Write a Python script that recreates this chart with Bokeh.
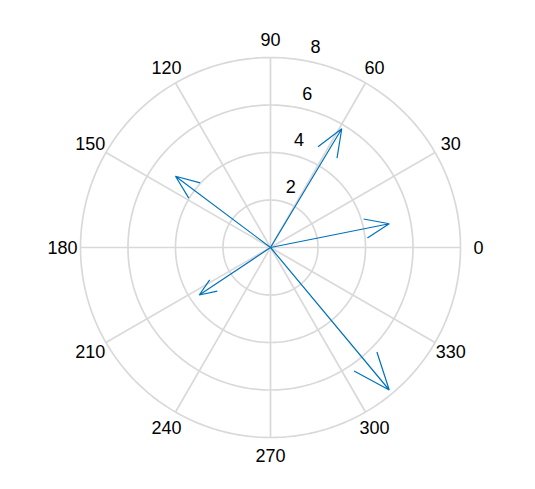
import numpy as np
from bokeh.plotting import figure
from bokeh.models import Range1d
from bokeh.core.properties import value
from bokeh.embed import file_html
from bokeh.resources import INLINE

# compass vectors (u, v)
u = [3, 5, -4, -3, 5]
v = [5, 1, 3, -2, -6]

ring_values = [2, 4, 6, 8]
ring_labels = ["2", "4", "6", "8"]
angle_values = [0, 30, 60, 90, 120, 150, 180, 210, 240, 270, 300, 330]
angle_labels = [str(a) for a in angle_values]

rmax = 8
scale = 23.75  # px per unit
W, H = 530, 484
cx, cy = 270, 247
p = figure(width=W, height=H, output_backend="svg", toolbar_location=None,
           x_range=Range1d(-cx / scale, (W - cx) / scale),
           y_range=Range1d(-(H - cy) / scale, cy / scale),
           min_border=0)
p.axis.visible = False
p.grid.visible = False
p.outline_line_color = None
p.background_fill_color = "white"

grid_col = "#d9d9d9"
th = np.linspace(0, 2 * np.pi, 361)
for r in ring_values:
    p.line(r * np.cos(th), r * np.sin(th), line_color=grid_col, line_width=1.7)
for a in angle_values:
    ar = np.deg2rad(a)
    p.line([0, rmax * np.cos(ar)], [0, rmax * np.sin(ar)], line_color=grid_col, line_width=1.7)

# angle labels
lr = 8.76
p.text(x=[lr * np.cos(np.deg2rad(a)) for a in angle_values],
       y=[lr * np.sin(np.deg2rad(a)) for a in angle_values],
       text=angle_labels, text_align="center", text_baseline="middle",
       text_font=value("Liberation Sans"), text_font_size="18px", text_color="black")

# ring labels at 80 deg
ra = np.deg2rad(80)
p.text(x=[r * np.cos(ra) for r in ring_values], y=[r * np.sin(ra) for r in ring_values],
       text=ring_labels, text_align="center", text_baseline="middle",
       x_offset=12, y_offset=-14,
       text_font=value("Liberation Sans"), text_font_size="18px", text_color="black")

# arrows (MATLAB compass arrow shape)
xx = np.array([0, 1, .8, 1, .8])
yy = np.array([0, 0, .08, 0, -.08])
arrow = xx + 1j * yy
xs, ys = [], []
for uu, vv in zip(u, v):
    z = arrow * complex(uu, vv)
    xs.append(list(z.real))
    ys.append(list(z.imag))
p.multi_line(xs, ys, line_color="#0072BD", line_width=1.2)

open("out.html", "w").write(file_html(p, INLINE))
